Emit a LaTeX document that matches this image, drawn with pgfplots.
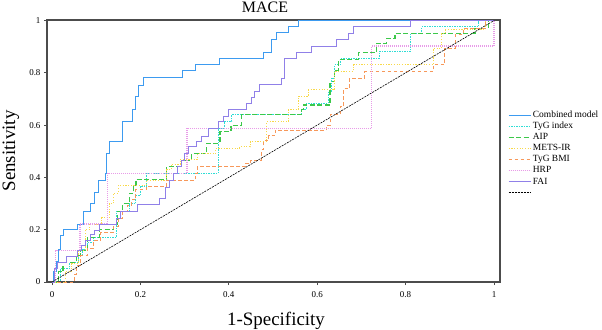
\documentclass[border=0pt]{standalone}
\usepackage{pgfplots}
\pgfplotsset{compat=1.18}
\usepackage{fontspec}
\setmainfont{Liberation Serif}
\definecolor{cblue}{HTML}{3D9BF0}
\definecolor{ccyan}{HTML}{2EDDD5}
\definecolor{cgreen}{HTML}{3CC84A}
\definecolor{cyellow}{HTML}{F8D94A}
\definecolor{corange}{HTML}{F7985A}
\definecolor{cpink}{HTML}{E89BE8}
\definecolor{cpurple}{HTML}{9080E8}
\begin{document}
\begin{tikzpicture}[x=1bp,y=1bp]
\begin{axis}[
  at={(47bp,47bp)}, anchor=south west,
  scale only axis, width=453bp, height=262bp,
  xmin=-0.0113, xmax=1.0136, ymin=0, ymax=1.002,
  axis line style={draw=black!70, line width=1.1bp},
  xtick={0,0.2,0.4,0.6,0.8,1}, ytick={0,0.2,0.4,0.6,0.8,1},
  tick align=outside, major tick length=3bp,
  xtick pos=bottom, ytick pos=left,
  tick style={black!70, line width=0.8bp},
  /pgf/number format/assume math mode=true,
  tick label style={font=\fontsize{9}{10}\selectfont},
  xticklabel style={yshift=-3bp},
  legend style={at={(1,0.489)}, anchor=west, xshift=8bp, draw=none, fill=none,
    inner sep=0pt, outer sep=0pt, font=\fontsize{9.5}{11}\selectfont, row sep=0pt,
    nodes={inner sep=1.5bp, text height=6.5bp, text depth=1.6bp}},
  legend cell align=left,
  legend image code/.code={\draw[#1] (0bp,0bp) -- (22bp,0bp);},
]
\addplot[cblue, line width=1bp] coordinates {
(0,0)(0.003,0)(0.003,0.04)(0.0106,0.04)(0.0106,0.078)(0.014,0.078)(0.014,0.125)(0.02,0.125)(0.02,0.176)(0.026,0.176)(0.026,0.2)(0.057,0.2)(0.057,0.22)(0.071,0.22)(0.071,0.27)(0.0875,0.27)(0.0875,0.30)(0.096,0.30)(0.096,0.343)(0.105,0.343)(0.105,0.39)(0.12,0.39)(0.12,0.415)(0.124,0.415)(0.124,0.49)(0.131,0.49)(0.131,0.537)(0.159,0.537)(0.159,0.612)(0.183,0.612)(0.183,0.658)(0.188,0.658)(0.188,0.709)(0.195,0.709)(0.195,0.753)(0.207,0.753)(0.207,0.781)(0.296,0.781)(0.296,0.807)(0.325,0.807)(0.325,0.83)(0.38,0.83)(0.38,0.854)(0.478,0.854)(0.478,0.878)(0.497,0.878)(0.497,0.928)(0.508,0.928)(0.508,0.953)(0.535,0.953)(0.535,0.976)(0.557,0.976)(0.557,1)(1,1)};
\addlegendentry{Combined model}
\addplot[ccyan, line width=1bp, dash pattern=on 1.5bp off 1bp] coordinates {
(0,0)(0.02,0)(0.02,0.05)(0.04,0.05)(0.04,0.075)(0.06,0.075)(0.06,0.1)(0.07,0.1)(0.07,0.125)(0.08,0.125)(0.08,0.15)(0.095,0.15)(0.095,0.171)(0.146,0.171)(0.146,0.27)(0.175,0.27)(0.175,0.3)(0.19,0.3)(0.19,0.33)(0.2,0.33)(0.2,0.367)(0.214,0.367)(0.214,0.416)(0.376,0.416)(0.376,0.588)(0.39,0.588)(0.39,0.613)(0.407,0.613)(0.407,0.639)(0.565,0.639)(0.565,0.66)(0.575,0.66)(0.575,0.683)(0.625,0.683)(0.625,0.73)(0.633,0.73)(0.633,0.78)(0.64,0.78)(0.64,0.83)(0.652,0.83)(0.652,0.855)(0.74,0.855)(0.74,0.88)(0.81,0.88)(0.81,0.951)(0.836,0.951)(0.836,0.976)(0.965,0.976)(0.965,1)(1,1)};
\addlegendentry{TyG index}
\addplot[cgreen, line width=1.1bp, dash pattern=on 5bp off 2.5bp] coordinates {
(0,0)(0.015,0)(0.015,0.04)(0.025,0.04)(0.025,0.075)(0.055,0.075)(0.055,0.1)(0.065,0.1)(0.065,0.12)(0.08,0.12)(0.08,0.17)(0.107,0.17)(0.107,0.2)(0.14,0.2)(0.14,0.22)(0.148,0.22)(0.148,0.27)(0.16,0.27)(0.16,0.3)(0.175,0.3)(0.175,0.34)(0.185,0.34)(0.185,0.37)(0.19,0.37)(0.19,0.393)(0.26,0.393)(0.26,0.443)(0.293,0.443)(0.293,0.466)(0.316,0.466)(0.316,0.49)(0.35,0.49)(0.35,0.53)(0.38,0.53)(0.38,0.575)(0.405,0.575)(0.405,0.6)(0.429,0.6)(0.429,0.639)(0.565,0.639)(0.565,0.658)(0.569,0.658)(0.569,0.677)(0.629,0.677)(0.629,0.766)(0.64,0.766)(0.64,0.81)(0.648,0.81)(0.648,0.85)(0.693,0.85)(0.693,0.876)(0.735,0.876)(0.735,0.913)(0.757,0.913)(0.757,0.932)(0.776,0.932)(0.776,0.951)(0.957,0.951)(0.957,0.97)(0.987,0.97)(0.987,1)(1,1)};
\addlegendentry{AIP}
\addplot[cyellow, line width=1bp, dash pattern=on 1.2bp off 1.5bp] coordinates {
(0,0)(0.03,0)(0.03,0.04)(0.045,0.04)(0.045,0.07)(0.06,0.07)(0.06,0.12)(0.075,0.12)(0.075,0.2)(0.085,0.2)(0.085,0.22)(0.112,0.22)(0.112,0.245)(0.13,0.245)(0.13,0.3)(0.14,0.3)(0.14,0.34)(0.15,0.34)(0.15,0.37)(0.214,0.37)(0.214,0.39)(0.26,0.39)(0.26,0.43)(0.27,0.43)(0.27,0.45)(0.29,0.45)(0.29,0.47)(0.33,0.47)(0.33,0.49)(0.37,0.49)(0.37,0.51)(0.425,0.51)(0.425,0.517)(0.448,0.517)(0.448,0.536)(0.486,0.536)(0.486,0.613)(0.535,0.613)(0.535,0.658)(0.557,0.658)(0.557,0.71)(0.58,0.71)(0.58,0.735)(0.64,0.735)(0.64,0.806)(0.682,0.806)(0.682,0.83)(0.863,0.83)(0.863,0.894)(0.882,0.894)(0.882,0.951)(0.89,0.951)(0.89,0.964)(0.98,0.964)(0.98,1)(1,1)};
\addlegendentry{METS-IR}
\addplot[corange, line width=1bp, dash pattern=on 3.5bp off 2.5bp] coordinates {
(0,0)(0.052,0)(0.052,0.03)(0.056,0.03)(0.056,0.065)(0.065,0.065)(0.065,0.1)(0.08,0.1)(0.08,0.13)(0.095,0.13)(0.095,0.16)(0.11,0.16)(0.11,0.19)(0.139,0.19)(0.139,0.212)(0.15,0.212)(0.15,0.243)(0.16,0.243)(0.16,0.269)(0.17,0.269)(0.17,0.294)(0.18,0.294)(0.18,0.314)(0.19,0.314)(0.19,0.352)(0.214,0.352)(0.214,0.367)(0.26,0.367)(0.26,0.39)(0.324,0.39)(0.324,0.416)(0.33,0.416)(0.33,0.443)(0.437,0.443)(0.437,0.454)(0.45,0.454)(0.45,0.466)(0.474,0.466)(0.474,0.505)(0.478,0.505)(0.478,0.54)(0.49,0.54)(0.49,0.56)(0.505,0.56)(0.505,0.58)(0.62,0.58)(0.62,0.6)(0.629,0.6)(0.629,0.64)(0.652,0.64)(0.652,0.672)(0.66,0.672)(0.66,0.74)(0.674,0.74)(0.674,0.78)(0.708,0.78)(0.708,0.804)(0.863,0.804)(0.863,0.83)(0.889,0.83)(0.889,0.894)(0.912,0.894)(0.912,0.945)(0.93,0.945)(0.93,0.97)(0.98,0.97)(0.98,1)(1,1)};
\addlegendentry{TyG BMI}
\addplot[cpink, line width=1.4bp, dash pattern=on 1bp off 1bp] coordinates {
(0,0)(0.008,0)(0.008,0.12)(0.063,0.12)(0.063,0.222)(0.126,0.222)(0.126,0.416)(0.305,0.416)(0.305,0.588)(0.723,0.588)(0.723,0.902)(1,0.902)(1,1)};
\addlegendentry{HRP}
\addplot[cpurple, line width=1bp] coordinates {
(0,0)(0.005,0)(0.005,0.05)(0.013,0.05)(0.013,0.075)(0.033,0.075)(0.033,0.097)(0.057,0.097)(0.057,0.122)(0.067,0.122)(0.067,0.141)(0.075,0.141)(0.075,0.16)(0.0875,0.16)(0.0875,0.18)(0.097,0.18)(0.097,0.196)(0.107,0.196)(0.107,0.22)(0.146,0.22)(0.146,0.243)(0.154,0.243)(0.154,0.27)(0.193,0.27)(0.193,0.297)(0.244,0.297)(0.244,0.32)(0.256,0.32)(0.256,0.36)(0.265,0.36)(0.265,0.39)(0.275,0.39)(0.275,0.415)(0.285,0.415)(0.285,0.44)(0.293,0.44)(0.293,0.466)(0.3,0.466)(0.3,0.49)(0.308,0.49)(0.308,0.517)(0.327,0.517)(0.327,0.536)(0.339,0.536)(0.339,0.558)(0.354,0.558)(0.354,0.588)(0.376,0.588)(0.376,0.613)(0.388,0.613)(0.388,0.632)(0.40,0.632)(0.40,0.658)(0.44,0.658)(0.44,0.683)(0.452,0.683)(0.452,0.704)(0.459,0.704)(0.459,0.728)(0.47,0.728)(0.47,0.755)(0.52,0.755)(0.52,0.78)(0.527,0.78)(0.527,0.854)(0.554,0.854)(0.554,0.878)(0.5875,0.878)(0.5875,0.902)(0.644,0.902)(0.644,0.927)(0.67,0.927)(0.67,0.951)(0.682,0.951)(0.682,0.976)(0.81,0.976)(0.81,1)(1,1)};
\addlegendentry{FAI}
\addplot[black, line width=0.6bp, dash pattern=on 2bp off 1bp] coordinates {(0,0)(1,1)};
\addlegendentry{}
\end{axis}
\node[font=\fontsize{16}{18}\selectfont, anchor=base] at (265,316.3) {MACE};
\node[font=\fontsize{19}{22}\selectfont, anchor=base] at (276,4) {1-Specificity};
\node[font=\fontsize{19}{22}\selectfont, anchor=base, rotate=90] at (15,178) {Sensitivity};
\pgfresetboundingbox
\path (0,0) rectangle (602,329);
\end{tikzpicture}
\end{document}
